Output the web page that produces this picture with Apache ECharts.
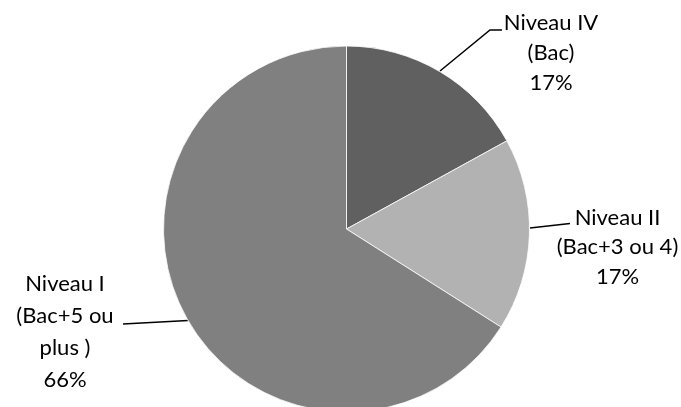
<!DOCTYPE html>
<html>
<head>
<meta charset="utf-8">
<script src="https://cdn.jsdelivr.net/npm/echarts@6/dist/echarts.min.js"></script>
<style>
html,body{margin:0;padding:0;background:#fff;}
#chart{width:681px;height:407px;}
</style>
</head>
<body>
<div id="chart"></div>
<script>
// Data
const categories = ['Niveau IV\n(Bac)', 'Niveau II\n(Bac+3 ou 4)', 'Niveau I\n(Bac+5 ou\nplus )'];
const values = [17, 17, 66];
const colors = ['#606060', '#b2b2b2', '#808080'];

// Label placement (layout only)
const labelSpots = [
  { x: 551, y: 53, lh: 30, line: [[440, 71], [490, 30], [502, 30]] },
  { x: 617.5, y: 247, lh: 29.5, line: [[530, 228], [570, 223.5]] },
  { x: 65, y: 332, lh: 32, line: [[188, 320.5], [123, 324]] }
];

const chart = echarts.init(document.getElementById('chart'), null, { renderer: 'canvas' });
chart.setOption({
  backgroundColor: '#ffffff',
  animation: false,
  series: [{
    type: 'pie',
    center: [346.5, 229],
    radius: 183,
    startAngle: 90,
    clockwise: true,
    avoidLabelOverlap: false,
    itemStyle: { borderColor: '#ffffff', borderWidth: 0.8 },
    label: {
      show: true,
      position: 'outside',
      formatter: p => p.name + '\n' + p.value + '%',
      color: '#000000',
      fontFamily: 'Lato',
      fontSize: 22,
      lineHeight: 30,
      align: 'center'
    },
    labelLine: { show: true, smooth: false, lineStyle: { color: '#000000', width: 1.5 } },
    emphasis: { disabled: true },
    data: categories.map((c, i) => ({
      name: c,
      value: values[i],
      itemStyle: { color: colors[i] },
      label: { lineHeight: labelSpots[i].lh }
    })),
    labelLayout: function (params) {
      const s = labelSpots[params.dataIndex];
      return {
        x: s.x,
        y: s.y,
        align: 'center',
        verticalAlign: 'middle',
        labelLinePoints: s.line
      };
    }
  }]
});
</script>
</body>
</html>
